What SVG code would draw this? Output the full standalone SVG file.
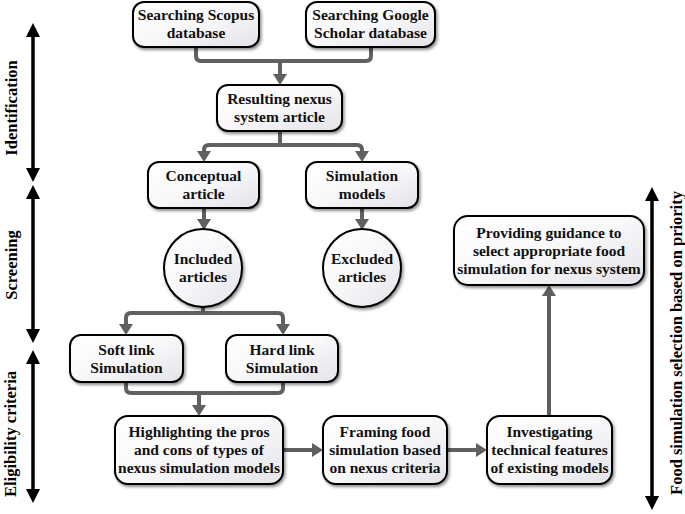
<svg xmlns="http://www.w3.org/2000/svg" width="685" height="514" viewBox="0 0 685 514">
<style>
.box{fill:url(#g);stroke:#000;stroke-width:2;filter:url(#sh)}
.t{font-family:"Liberation Serif","Times New Roman",serif;font-weight:bold;font-size:15.5px;fill:#111;text-anchor:middle}
.side{font-family:"Liberation Serif","Times New Roman",serif;font-weight:bold;font-size:16.5px;fill:#000;text-anchor:middle}
.c{fill:none;stroke:#606060;stroke-width:4}
.ca{fill:none;stroke:#606060;stroke-width:4;marker-end:url(#ah)}
.s{stroke:#000;stroke-width:3.5;marker-start:url(#bh);marker-end:url(#bh)}
</style>
<defs>
<linearGradient id="g" x1="0" y1="0" x2="1" y2="1">
<stop offset="0" stop-color="#ffffff"/>
<stop offset="0.5" stop-color="#f8f8fa"/>
<stop offset="1" stop-color="#e2e2e8"/>
</linearGradient>
<filter id="sh" x="-10%" y="-10%" width="130%" height="140%">
<feDropShadow dx="1.5" dy="2" stdDeviation="1.5" flood-color="#000" flood-opacity="0.45"/>
</filter>
<filter id="bl" x="-50%" y="-5%" width="200%" height="110%">
<feGaussianBlur stdDeviation="0.6"/>
</filter>
<marker id="ah" markerUnits="userSpaceOnUse" markerWidth="11" markerHeight="14" refX="0" refY="7" orient="auto">
<path d="M0,0 L11,7 L0,14 z" fill="#606060"/>
</marker>
<marker id="bh" markerUnits="userSpaceOnUse" markerWidth="14" markerHeight="14" refX="0" refY="7" orient="auto-start-reverse">
<path d="M0,0 L14,7 L0,14 z" fill="#000"/>
</marker>
</defs>

<g id="connectors">
<path class="c" d="M196 47 V56 Q196 61 201 61 H366 Q371 61 371 56 V47"/>
<path class="ca" d="M280 61 V74"/>
<path class="c" d="M280 132 V145"/>
<path class="ca" d="M280 145 H209 Q204 145 204 150 V151"/>
<path class="ca" d="M280 145 H357 Q362 145 362 150 V151"/>
<path class="ca" d="M204 208 V219"/>
<path class="ca" d="M362 208 V219"/>
<path class="c" d="M203 307 V313"/>
<path class="ca" d="M203 313 H131 Q126 313 126 318 V324"/>
<path class="ca" d="M203 313 H278 Q283 313 283 318 V324"/>
<path class="c" d="M126 382 V388 Q126 393 131 393 H278 Q283 393 283 388 V382"/>
<path class="ca" d="M199 393 V405"/>
<path class="ca" d="M283 450 H312"/>
<path class="ca" d="M447 450 H476"/>
<path class="ca" d="M549 416 V296"/>
</g>

<g id="phase-arrows" filter="url(#bl)">
<line class="s" x1="33" y1="37" x2="33" y2="168"/>
<line class="s" x1="33" y1="199" x2="33" y2="329"/>
<line class="s" x1="33" y1="364" x2="33" y2="489"/>
<line class="s" x1="652" y1="201" x2="652" y2="496"/>
</g>

<g id="label-identification"><text class="side" transform="translate(17,108) rotate(-90)">Identification</text></g>
<g id="label-screening"><text class="side" transform="translate(17,265) rotate(-90)">Screening</text></g>
<g id="label-eligibility"><text class="side" transform="translate(16,434) rotate(-90)">Eligibility criteria</text></g>
<g id="label-food"><text class="side" transform="translate(682,343) rotate(-90)">Food simulation selection based on priority</text></g>

<g id="scopus">
<rect class="box" x="133" y="2" width="126" height="45" rx="11"/>
<text class="t" x="196" y="20">Searching Scopus</text>
<text class="t" x="196" y="38">database</text>
</g>
<g id="google">
<rect class="box" x="306" y="2" width="129" height="45" rx="11"/>
<text class="t" x="370.5" y="20">Searching Google</text>
<text class="t" x="370.5" y="38">Scholar database</text>
</g>
<g id="resulting">
<rect class="box" x="217" y="85" width="125" height="46" rx="11"/>
<text class="t" x="279.5" y="104">Resulting nexus</text>
<text class="t" x="279.5" y="122">system article</text>
</g>
<g id="conceptual">
<rect class="box" x="148" y="162" width="111" height="46" rx="11"/>
<text class="t" x="203.5" y="181">Conceptual</text>
<text class="t" x="203.5" y="199">article</text>
</g>
<g id="simulation-models">
<rect class="box" x="306" y="162" width="112" height="46" rx="11"/>
<text class="t" x="362" y="181">Simulation</text>
<text class="t" x="362" y="199">models</text>
</g>
<g id="included">
<circle class="box" cx="203" cy="268" r="39"/>
<text class="t" x="203" y="264">Included</text>
<text class="t" x="203" y="282">articles</text>
</g>
<g id="excluded">
<circle class="box" cx="362" cy="268" r="39"/>
<text class="t" x="362" y="264">Excluded</text>
<text class="t" x="362" y="282">articles</text>
</g>
<g id="soft-link">
<rect class="box" x="70" y="335" width="113" height="47" rx="11"/>
<text class="t" x="126.5" y="355">Soft link</text>
<text class="t" x="126.5" y="373">Simulation</text>
</g>
<g id="hard-link">
<rect class="box" x="226" y="335" width="112" height="47" rx="11"/>
<text class="t" x="282" y="355">Hard link</text>
<text class="t" x="282" y="373">Simulation</text>
</g>
<g id="highlighting">
<rect class="box" x="115" y="416" width="168" height="68" rx="13"/>
<text class="t" x="199" y="437">Highlighting the pros</text>
<text class="t" x="199" y="455">and cons of types of</text>
<text class="t" x="199" y="473">nexus simulation models</text>
</g>
<g id="framing">
<rect class="box" x="323" y="416" width="124" height="68" rx="13"/>
<text class="t" x="385" y="437">Framing food</text>
<text class="t" x="385" y="455">simulation based</text>
<text class="t" x="385" y="473">on nexus criteria</text>
</g>
<g id="investigating">
<rect class="box" x="487" y="416" width="125" height="68" rx="13"/>
<text class="t" x="549.5" y="437">Investigating</text>
<text class="t" x="549.5" y="455">technical features</text>
<text class="t" x="549.5" y="473">of existing models</text>
</g>
<g id="providing">
<rect class="box" x="454" y="216" width="190" height="69" rx="14"/>
<text class="t" x="549" y="238">Providing guidance to</text>
<text class="t" x="549" y="256">select appropriate food</text>
<text class="t" x="549" y="274">simulation for nexus system</text>
</g>
</svg>
